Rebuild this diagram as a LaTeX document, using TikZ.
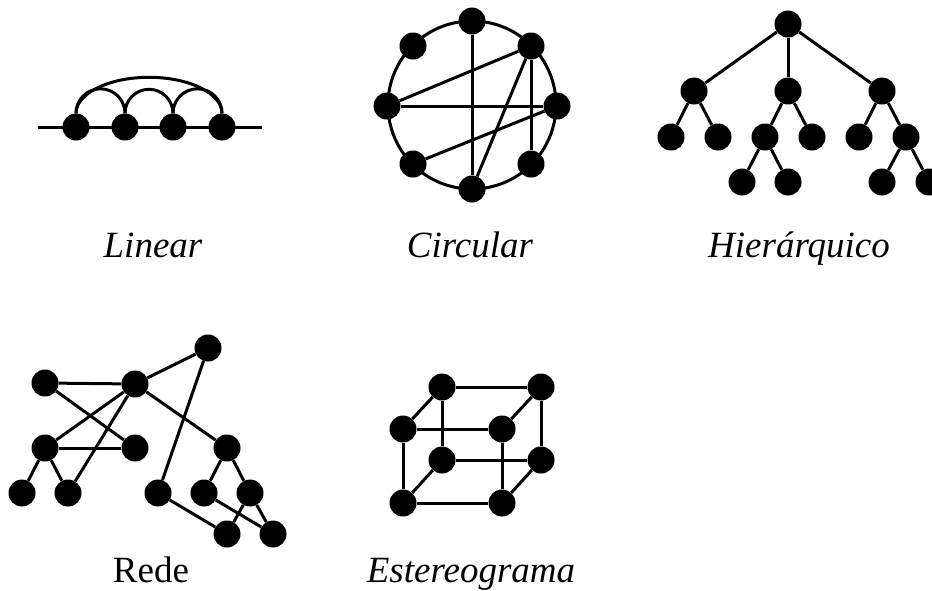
\documentclass[tikz,border=0pt]{standalone}
\usepackage{fontspec}
\setmainfont{Liberation Serif}
\begin{document}
\begin{tikzpicture}[x=1pt,y=-1pt,
  dot/.style={circle,fill=black,draw=none,minimum size=27pt,inner sep=0pt},
  edge/.style={line width=3pt,black},
  lbl/.style={anchor=base,inner sep=0pt,font=\fontsize{37}{40}\selectfont}]
\useasboundingbox (0,0) rectangle (932,590);
\fill[white] (0,0) rectangle (932,590);

% ---------- Linear ----------
\coordinate (la) at (38,127);
\coordinate (lb) at (262,127);
\draw[edge] (la) -- (lb);
\node[dot] (l1) at (76,127) {};
\node[dot] (l2) at (125,127) {};
\node[dot] (l3) at (173,127) {};
\node[dot] (l4) at (222,127) {};
\draw[edge] (l1.north) arc[start angle=180,end angle=360,radius=24.5];
\draw[edge] (l2.north) arc[start angle=180,end angle=360,radius=24];
\draw[edge] (l3.north) arc[start angle=180,end angle=360,radius=24.5];
\draw[edge] (l1.north) arc[start angle=180,end angle=360,x radius=73,y radius=36];
\node[lbl,font=\fontsize{37}{40}\selectfont\itshape] (tlin) at (153,257) {Linear};

% ---------- Circular ----------
\node[circle,draw,line width=3pt,minimum size=168pt,inner sep=0pt] (ring) at (472,105) {};
\node[dot] (c1) at (472,21) {};
\node[dot] (c2) at (413,46) {};
\node[dot] (c3) at (531,46) {};
\node[dot] (c4) at (387,106) {};
\node[dot] (c5) at (557,106) {};
\node[dot] (c6) at (413,164) {};
\node[dot] (c7) at (531,164) {};
\node[dot] (c8) at (472,189) {};
\draw[edge] (c1) -- (c8);
\draw[edge] (c3) -- (c4);
\draw[edge] (c4) -- (c5);
\draw[edge] (c3) -- (c8);
\draw[edge] (c3) -- (c7);
\draw[edge] (c5) -- (c6);
\node[lbl,font=\fontsize{37}{40}\selectfont\itshape] (tcir) at (470,257) {Circular};

% ---------- Hierarquico ----------
\node[dot] (h0) at (788,24) {};
\node[dot] (h1) at (694,91) {};
\node[dot] (h2) at (788,91) {};
\node[dot] (h3) at (882,91) {};
\node[dot] (h11) at (671,137) {};
\node[dot] (h12) at (718,137) {};
\node[dot] (h21) at (765,137) {};
\node[dot] (h22) at (812,137) {};
\node[dot] (h31) at (859,137) {};
\node[dot] (h32) at (906,137) {};
\node[dot] (h211) at (742,182) {};
\node[dot] (h212) at (788,182) {};
\node[dot] (h321) at (882,182) {};
\node[dot] (h322) at (929,182) {};
\draw[edge] (h0) -- (h1);
\draw[edge] (h0) -- (h2);
\draw[edge] (h0) -- (h3);
\draw[edge] (h1) -- (h11);
\draw[edge] (h1) -- (h12);
\draw[edge] (h2) -- (h21);
\draw[edge] (h2) -- (h22);
\draw[edge] (h3) -- (h31);
\draw[edge] (h3) -- (h32);
\draw[edge] (h21) -- (h211);
\draw[edge] (h21) -- (h212);
\draw[edge] (h32) -- (h321);
\draw[edge] (h32) -- (h322);
\node[lbl,font=\fontsize{37}{40}\selectfont\itshape] (thie) at (799,257) {Hierárquico};

% ---------- Rede ----------
\node[dot] (rA) at (45,383) {};
\node[dot] (rB) at (135,384) {};
\node[dot] (rC) at (208,348) {};
\node[dot] (rD) at (45,448) {};
\node[dot] (rE) at (135,448) {};
\node[dot] (rF) at (22,493) {};
\node[dot] (rG) at (68,493) {};
\node[dot] (rH) at (158,493) {};
\node[dot] (rI) at (227,448) {};
\node[dot] (rJ) at (204,493) {};
\node[dot] (rK) at (250,493) {};
\node[dot] (rL) at (227,534) {};
\node[dot] (rM) at (273,534) {};
\draw[edge] (rA) -- (rB);
\draw[edge] (rA) -- (rE);
\draw[edge] (rB) -- (rC);
\draw[edge] (rB) -- (rD);
\draw[edge] (rB) -- (rG);
\draw[edge] (rB) -- (rI);
\draw[edge] (rD) -- (rE);
\draw[edge] (rD) -- (rF);
\draw[edge] (rD) -- (rG);
\draw[edge] (rC) -- (rH);
\draw[edge] (rI) -- (rJ);
\draw[edge] (rI) -- (rK);
\draw[edge] (rH) -- (rL);
\draw[edge] (rJ) -- (rM);
\draw[edge] (rK) -- (rL);
\draw[edge] (rK) -- (rM);
\node[lbl] (tred) at (151,582) {Rede};

% ---------- Estereograma ----------
\node[dot] (s1) at (442,387) {};
\node[dot] (s2) at (541,387) {};
\node[dot] (s3) at (403,429) {};
\node[dot] (s4) at (502,429) {};
\node[dot] (s5) at (442,460) {};
\node[dot] (s6) at (541,460) {};
\node[dot] (s7) at (403,503) {};
\node[dot] (s8) at (502,503) {};
\draw[edge] (s1) -- (s2);
\draw[edge] (s3) -- (s4);
\draw[edge] (s5) -- (s6);
\draw[edge] (s7) -- (s8);
\draw[edge] (s1) -- (s5);
\draw[edge] (s2) -- (s6);
\draw[edge] (s3) -- (s7);
\draw[edge] (s4) -- (s8);
\draw[edge] (s1) -- (s3);
\draw[edge] (s2) -- (s4);
\draw[edge] (s5) -- (s7);
\draw[edge] (s6) -- (s8);
\node[lbl,font=\fontsize{37}{40}\selectfont\itshape] (tste) at (471,582) {Estereograma};
\end{tikzpicture}
\end{document}
